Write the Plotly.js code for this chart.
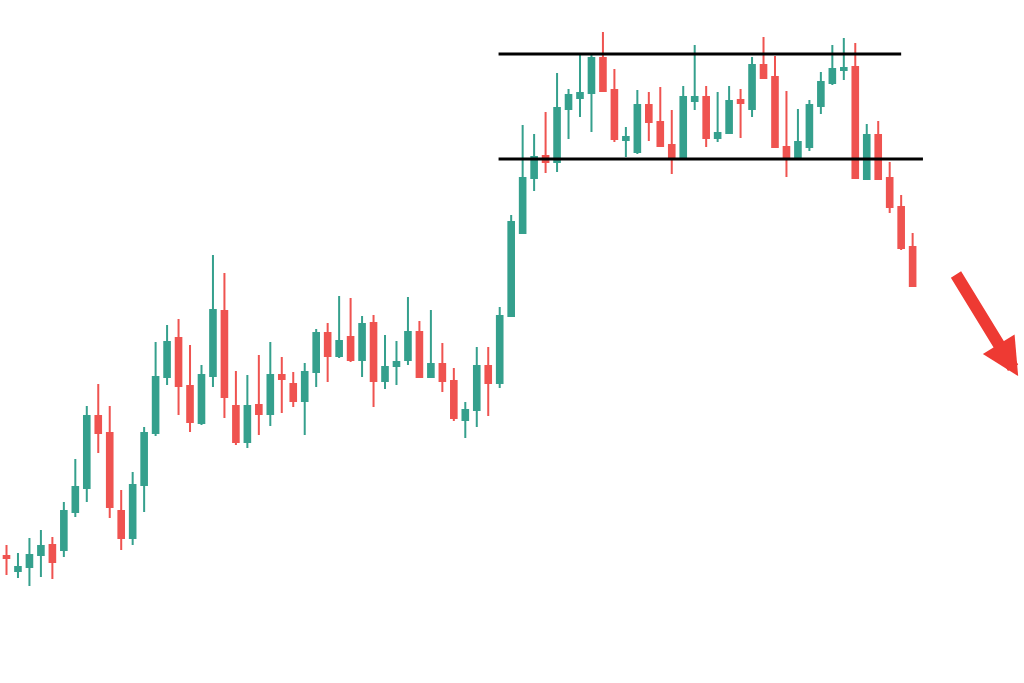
<!DOCTYPE html>
<html>
<head>
<meta charset="utf-8">
<script src="https://cdn.plot.ly/plotly-3.0.1.min.js"></script>
<style>
html,body{margin:0;padding:0;background:#fff;}
#chart{width:1024px;height:683px;}
</style>
</head>
<body>
<div id="chart"></div>
<script>
// Candle index (session number)
const sessions = Array.from({length: 80}, (_, i) => i);

const openPrices = [
  144,129,133,145,155,150,188,212,284,267,
  189,162,215,267,323,362,314,277,324,389,
  294,258,295,286,325,316,299,328,367,344,
  363,340,377,319,334,340,368,323,336,319,
  280,290,334,317,384,467,522,544,538,591,
  602,607,642,610,560,548,595,578,555,543,
  599,603,562,567,600,591,635,623,553,541,
  553,594,617,630,633,521,565,522,493,453
];
const highPrices = [
  155,147,162,170,163,198,241,294,316,294,
  210,228,273,358,375,381,355,335,445,427,
  329,325,345,358,343,328,337,371,377,404,
  402,384,385,365,359,403,379,390,357,332,
  298,353,353,393,485,575,566,588,627,611,
  647,646,668,631,573,610,608,613,590,614,
  655,614,608,614,611,643,663,644,609,591,
  600,628,655,662,657,576,579,538,505,467
];
const lowPrices = [
  125,122,114,123,121,143,183,198,247,182,
  150,155,188,264,315,285,268,275,313,282,
  255,252,265,274,287,293,265,313,318,342,
  338,323,293,311,315,335,322,322,308,279,
  262,273,284,312,383,466,509,527,528,561,
  583,568,608,558,543,546,559,553,526,542,
  590,553,558,566,562,583,621,552,523,540,
  549,586,615,620,521,520,520,487,450,413
];
const closePrices = [
  142,133,145,154,138,189,213,284,267,193,
  162,215,267,323,358,314,278,325,390,303,
  258,294,286,325,321,299,328,367,344,359,
  340,376,319,333,338,368,323,336,319,282,
  290,334,317,384,478,522,543,538,592,605,
  607,642,609,561,563,595,578,554,542,603,
  603,562,567,599,597,635,622,553,541,558,
  595,618,631,632,522,565,521,493,452,414
];

// Drawn range levels (price)
const resistanceLevel = 646;
const supportLevel = 541;

const green = '#35a08d';
const red = '#ef5350';

const trace = {
  type: 'candlestick',
  x: sessions,
  open: openPrices,
  high: highPrices,
  low: lowPrices,
  close: closePrices,
  increasing: {line: {color: green, width: 2}, fillcolor: green},
  decreasing: {line: {color: red, width: 2}, fillcolor: red},
  whiskerwidth: 0,
  hoverinfo: 'skip',
  showlegend: false
};

const layout = {
  width: 1024,
  height: 683,
  margin: {l: 0, r: 0, t: 0, b: 0},
  paper_bgcolor: '#ffffff',
  plot_bgcolor: '#ffffff',
  showlegend: false,
  xaxis: {
    type: 'linear',
    range: [-0.567, 88.71],
    visible: false,
    showgrid: false,
    zeroline: false,
    rangeslider: {visible: false},
    fixedrange: true
  },
  yaxis: {
    range: [17, 700],
    visible: false,
    showgrid: false,
    zeroline: false,
    fixedrange: true
  },
  shapes: [
    {type: 'line', xref: 'x', yref: 'y', x0: 42.9, x1: 78.0,
     y0: resistanceLevel, y1: resistanceLevel, line: {color: '#000000', width: 3}},
    {type: 'line', xref: 'x', yref: 'y', x0: 42.9, x1: 79.9,
     y0: supportLevel, y1: supportLevel, line: {color: '#000000', width: 3}}
  ],
  annotations: [
    {x: 88.2, y: 324, ax: 82.7, ay: 427, xref: 'x', yref: 'y', axref: 'x', ayref: 'y',
     text: '', showarrow: true, arrowhead: 2, arrowsize: 0.62, arrowwidth: 12,
     arrowcolor: '#ee3a33', standoff: 0}
  ]
};

Plotly.newPlot('chart', [trace], layout, {staticPlot: true, displayModeBar: false});
</script>
</body>
</html>
